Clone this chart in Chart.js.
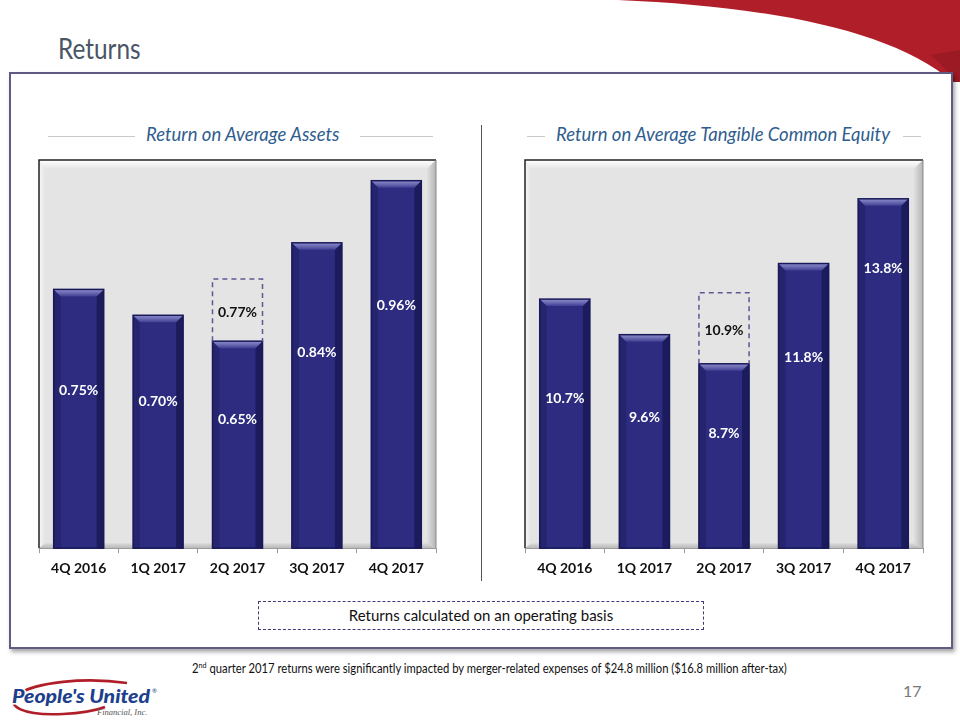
<!DOCTYPE html>
<html>
<head>
<meta charset="utf-8">
<script src="https://cdn.jsdelivr.net/npm/chart.js@4.4.1/dist/chart.umd.min.js"></script>
<style>
  html, body { margin: 0; padding: 0; background: #fff; }
  body { width: 960px; height: 720px; position: relative; overflow: hidden; font-family: Lato, "Open Sans", sans-serif; }
  .abs { position: absolute; }
  #frame { left: 9px; top: 72px; width: 940px; height: 573px; border: 2px solid #5F5B84; box-shadow: 2px 3px 4px rgba(0,0,0,0.35); background: #fff; }
  #pageTitle { left: 58px; top: 30px; font-size: 29px; color: #4A5566; transform: scaleX(0.84); transform-origin: left top; }
  .ctitle { font-style: italic; font-size: 18.5px; color: #2F5E8E; white-space: nowrap; }
  .tline { height: 1px; background: #C9C9C9; }
  #divider { left: 481px; top: 125px; width: 1px; height: 456px; background: #555; }
  #opbox { left: 258px; top: 601px; width: 444px; height: 27px; border: 1.5px dashed #3E3A78; font-size: 15px; color: #111; text-align: center; line-height: 27px; }
  #foot { left: 192px; top: 660px; font-size: 12.5px; color: #111; white-space: nowrap; transform: scaleX(0.9); transform-origin: left top; }
  #foot sup { font-size: 8px; }
  #pnum { left: 903px; top: 681px; font-size: 16px; color: #777; }
  canvas { position: absolute; }
</style>
</head>
<body>
<svg class="abs" style="left:0;top:0" width="960" height="90">
  <path d="M 618 0 C 760 6, 890 28, 953 82 L 960 82 L 960 0 Z" fill="#B01F29"/>
  <path d="M 930 55 C 942 64, 950 73, 953 82 L 960 82 L 960 50 Z" fill="#8E1820" opacity="0.6"/>
</svg>
<div id="pageTitle" class="abs">Returns</div>
<div id="frame" class="abs"></div>

<div class="abs tline" style="left:48px;top:136px;width:87px"></div>
<div class="abs ctitle" id="t1" style="left:146px;top:123px">Return on Average Assets</div>
<div class="abs tline" style="left:360px;top:136px;width:73px"></div>

<div class="abs tline" style="left:527px;top:136px;width:18px"></div>
<div class="abs ctitle" id="t2" style="left:556px;top:123px">Return on Average Tangible Common Equity</div>
<div class="abs tline" style="left:903px;top:136px;width:18px"></div>

<div id="divider" class="abs"></div>

<canvas id="c1" width="420" height="440" style="left:29px;top:150px"></canvas>
<canvas id="c2" width="420" height="440" style="left:515px;top:150px"></canvas>

<div id="opbox" class="abs">Returns calculated on an operating basis</div>
<div id="foot" class="abs">2<sup>nd</sup> quarter 2017 returns were significantly impacted by merger-related expenses of $24.8 million ($16.8 million after-tax)</div>
<div id="pnum" class="abs">17</div>

<svg class="abs" style="left:5px;top:676px" width="160" height="44">
  <path d="M 122 7 C 80 1, 30 6, 12 19 C 0 30, 18 40, 58 38 C 78 37, 92 34, 100 31" fill="none" stroke="#B01F29" stroke-width="2.6"/>
  <text x="7" y="27" textLength="138" lengthAdjust="spacingAndGlyphs" font-family="Lato, sans-serif" font-weight="900" font-style="italic" font-size="19" fill="#1E3F8C" stroke="#fff" stroke-width="3" paint-order="stroke">People's United</text>
  <text x="147" y="17" font-family="Lato, sans-serif" font-size="6" fill="#1E3F8C">®</text>
  <text x="92" y="39" font-family="Liberation Serif, serif" font-style="italic" font-size="8.5" fill="#555">Financial, Inc.</text>
</svg>

<script>
// ---------------- DATA ----------------
const quarters = ['4Q 2016', '1Q 2017', '2Q 2017', '3Q 2017', '4Q 2017'];
const roaaReported = [0.75, 0.70, 0.65, 0.84, 0.96];
const roaaOperating = [null, null, 0.77, null, null];
const rotceReported = [10.7, 9.6, 8.7, 11.8, 13.8];
const rotceOperating = [null, null, 10.9, null, null];
const roaaAxis = { min: 0.25, max: 1.0 };
const rotceAxis = { min: 3, max: 15 };

// ---------------- PLUGINS ----------------
const plotBevel = {
  id: 'plotBevel',
  beforeDraw(chart) {
    const { ctx, chartArea: a } = chart;
    ctx.save();
    ctx.fillStyle = '#E4E4E4';
    ctx.fillRect(a.left, a.top, a.right - a.left, a.bottom - a.top);
    let g = ctx.createLinearGradient(0, a.top, 0, a.top + 9);
    g.addColorStop(0, '#FFFFFF'); g.addColorStop(1, '#E4E4E4');
    ctx.fillStyle = g;
    ctx.beginPath();
    ctx.moveTo(a.left, a.top); ctx.lineTo(a.right, a.top); ctx.lineTo(a.right - 9, a.top + 9); ctx.lineTo(a.left + 6, a.top + 9); ctx.closePath(); ctx.fill();
    g = ctx.createLinearGradient(a.left, 0, a.left + 6, 0);
    g.addColorStop(0, '#F6F6F6'); g.addColorStop(1, '#E4E4E4');
    ctx.fillStyle = g;
    ctx.beginPath();
    ctx.moveTo(a.left, a.top); ctx.lineTo(a.left + 6, a.top + 9); ctx.lineTo(a.left + 6, a.bottom - 5); ctx.lineTo(a.left, a.bottom); ctx.closePath(); ctx.fill();
    g = ctx.createLinearGradient(a.right - 9, 0, a.right, 0);
    g.addColorStop(0, '#E0E0E0'); g.addColorStop(1, '#B4B4B4');
    ctx.fillStyle = g;
    ctx.beginPath();
    ctx.moveTo(a.right, a.top); ctx.lineTo(a.right - 9, a.top + 9); ctx.lineTo(a.right - 9, a.bottom - 5); ctx.lineTo(a.right, a.bottom); ctx.closePath(); ctx.fill();
    g = ctx.createLinearGradient(0, a.bottom - 5, 0, a.bottom);
    g.addColorStop(0, '#DADADA'); g.addColorStop(1, '#B8B8B8');
    ctx.fillStyle = g;
    ctx.beginPath();
    ctx.moveTo(a.left, a.bottom); ctx.lineTo(a.left + 6, a.bottom - 5); ctx.lineTo(a.right - 9, a.bottom - 5); ctx.lineTo(a.right, a.bottom); ctx.closePath(); ctx.fill();
    ctx.strokeStyle = '#222';
    ctx.lineWidth = 1.5;
    ctx.beginPath();
    ctx.moveTo(a.left, a.bottom); ctx.lineTo(a.left, a.top); ctx.lineTo(a.right, a.top);
    ctx.stroke();
    ctx.strokeStyle = '#8A8A8A';
    ctx.lineWidth = 1;
    ctx.beginPath();
    ctx.moveTo(a.right, a.top); ctx.lineTo(a.right, a.bottom);
    ctx.stroke();
    ctx.restore();
  }
};

const barBevel = {
  id: 'barBevel',
  afterDatasetsDraw(chart) {
    const { ctx, chartArea: a } = chart;
    const meta = chart.getDatasetMeta(0);
    ctx.save();
    meta.data.forEach(el => {
      const w = el.width, l = el.x - w / 2, r = el.x + w / 2, t = el.y, b = Math.min(el.base, a.bottom);
      const bv = 7;
      ctx.fillStyle = '#25246E';
      ctx.beginPath(); ctx.moveTo(l, t); ctx.lineTo(l + bv, t + bv); ctx.lineTo(l + bv, b); ctx.lineTo(l, b); ctx.closePath(); ctx.fill();
      ctx.fillStyle = '#1C1B5C';
      ctx.beginPath(); ctx.moveTo(r, t); ctx.lineTo(r - bv, t + bv); ctx.lineTo(r - bv, b); ctx.lineTo(r, b); ctx.closePath(); ctx.fill();
      const g = ctx.createLinearGradient(0, t, 0, t + bv);
      g.addColorStop(0, '#8C8CCB'); g.addColorStop(0.5, '#6A69B2'); g.addColorStop(1, '#3F3E92');
      ctx.fillStyle = g;
      ctx.beginPath(); ctx.moveTo(l, t); ctx.lineTo(r, t); ctx.lineTo(r - bv, t + bv); ctx.lineTo(l + bv, t + bv); ctx.closePath(); ctx.fill();
      ctx.strokeStyle = '#19185A';
      ctx.lineWidth = 1.5;
      ctx.strokeRect(l, t, w, b - t);
    });
    const meta2 = chart.getDatasetMeta(1);
    ctx.setLineDash([5, 4]);
    ctx.strokeStyle = '#5C5894';
    ctx.lineWidth = 1.5;
    meta2.data.forEach((el, i) => {
      if (chart.data.datasets[1].data[i] == null) return;
      const w = el.width, l = el.x - w / 2;
      ctx.beginPath();
      ctx.moveTo(l, el.base); ctx.lineTo(l, el.y); ctx.lineTo(l + w, el.y); ctx.lineTo(l + w, el.base);
      ctx.stroke();
    });
    ctx.restore();
  }
};

const valueLabels = {
  id: 'valueLabels',
  afterDatasetsDraw(chart, args, opts) {
    const { ctx, chartArea: a } = chart;
    ctx.save();
    ctx.font = 'bold 14px Lato, "Open Sans", sans-serif';
    ctx.textAlign = 'center';
    ctx.textBaseline = 'middle';
    const d0 = chart.data.datasets[0].data;
    chart.getDatasetMeta(0).data.forEach((el, i) => {
      const b = Math.min(el.base, a.bottom);
      const y = el.y + opts.fracs[i] * (b - el.y);
      ctx.fillStyle = '#FFFFFF';
      ctx.fillText(d0[i].toFixed(opts.dec) + '%', el.x, y);
    });
    const d1 = chart.data.datasets[1].data;
    chart.getDatasetMeta(1).data.forEach((el, i) => {
      if (d1[i] == null) return;
      ctx.fillStyle = '#111111';
      ctx.fillText(d1[i][1].toFixed(opts.dec) + '%', el.x, (el.y + el.base) / 2 + 2);
    });
    ctx.restore();
  }
};

function makeChart(id, reported, operating, axis, dec, fracs, padL, padR) {
  const floating = operating.map((v, i) => v == null ? null : [reported[i], v]);
  return new Chart(document.getElementById(id), {
    type: 'bar',
    data: {
      labels: quarters,
      datasets: [
        { data: reported, backgroundColor: '#2D2C80', borderWidth: 0, categoryPercentage: 1, barPercentage: 0.63 },
        { data: floating, backgroundColor: 'rgba(0,0,0,0)', borderWidth: 0, categoryPercentage: 1, barPercentage: 0.63 }
      ]
    },
    options: {
      responsive: false,
      animation: false,
      layout: { padding: { left: padL, right: padR, top: 10, bottom: 6 } },
      plugins: {
        legend: { display: false },
        tooltip: { enabled: false },
        valueLabels: { dec: dec, fracs: fracs }
      },
      scales: {
        x: {
          stacked: true,
          grid: { drawOnChartArea: false, color: '#9A9A9A', tickLength: 5, offset: true },
          border: { display: true, color: '#9A9A9A' },
          ticks: { color: '#111', font: { family: 'Lato, "Open Sans", sans-serif', size: 14, weight: 'bold' }, padding: 7 }
        },
        y: {
          display: false,
          min: axis.min, max: axis.max
        }
      }
    },
    plugins: [plotBevel, barBevel, valueLabels]
  });
}

makeChart('c1', roaaReported, roaaOperating, roaaAxis, 2, [0.39, 0.37, 0.38, 0.36, 0.34], 10, 13);
makeChart('c2', rotceReported, rotceOperating, rotceAxis, 1, [0.40, 0.39, 0.38, 0.33, 0.20], 10, 12);
</script>
</body>
</html>
